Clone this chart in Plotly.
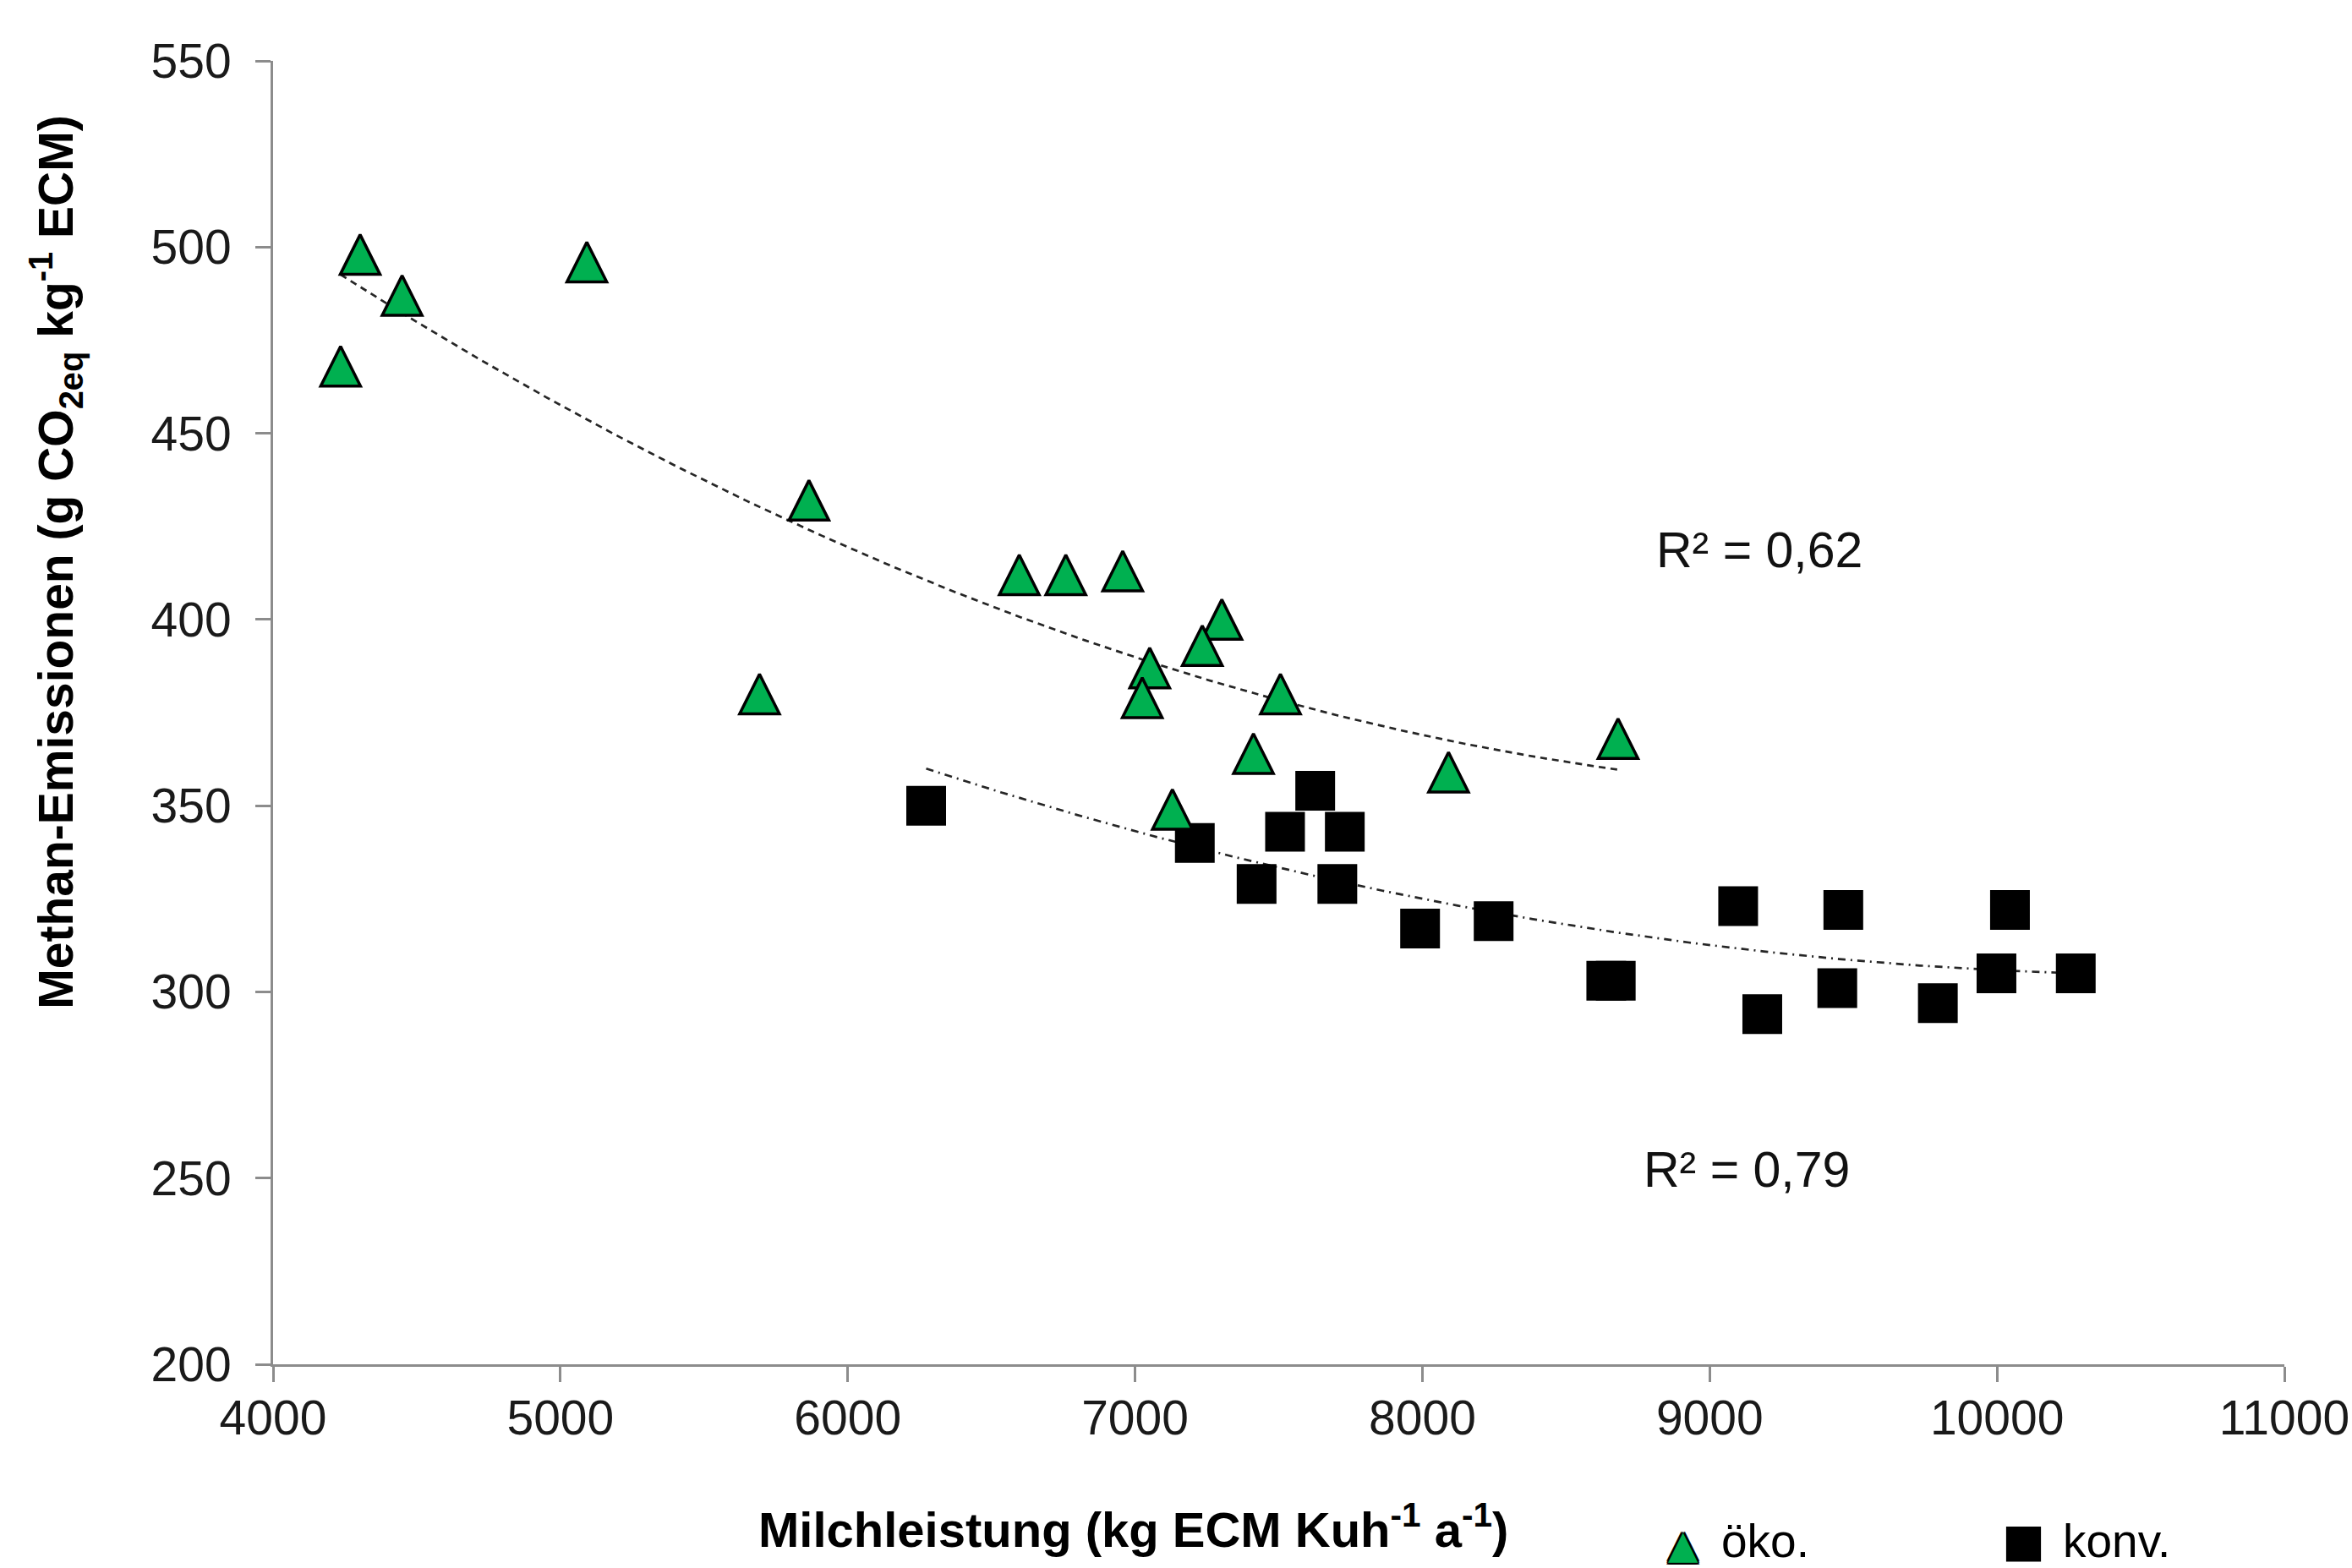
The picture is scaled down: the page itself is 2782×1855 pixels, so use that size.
import numpy as np
import plotly.graph_objects as go

# ---- data ----
oeko_x = [4235, 4303, 4449, 5092, 5865, 5693, 6597, 6759, 6957, 7302, 7234,
          7051, 7025, 7506, 7412, 7130, 8091, 8681]
oeko_y = [468, 498, 487, 496, 432, 380, 412, 412, 413, 400, 393,
          387, 379, 380, 364, 349, 359, 368]

konv_x = [6273, 7208, 7423, 7627, 7522, 7730, 7704, 7992, 8248, 8640, 8673,
          9099, 9183, 9465, 9444, 9794, 10045, 9998, 10274]
konv_y = [350, 340, 329, 354, 343, 343, 329, 317, 319, 303, 303,
          323, 294, 322, 301, 297, 322, 305, 305]

x_ticks = [4000, 5000, 6000, 7000, 8000, 9000, 10000, 11000]
y_ticks = [200, 250, 300, 350, 400, 450, 500, 550]

r2_oeko = "R² = 0,62"
r2_konv = "R² = 0,79"
legend_names = ["öko.", "konv."]

# ---- layout constants ----
W, H = 2782, 1855
ML, MR, MT, MB = 323, 80, 72, 241
YR = [200, 550]
XR = [4000, 11000]
plot_h = H - MT - MB
px_per_unit = plot_h / (YR[1] - YR[0])
bottom_paper = -MB / plot_h  # paper y of the figure's bottom edge

TRI_SIZE = 47
SQ_SIZE = 45
GREEN = "#00B050"
FONT = "Liberation Sans, Arial, sans-serif"
TICK_FONT = dict(family=FONT, size=57, color="#1a1a1a")

# 2nd-order polynomial trendlines (as in the original spreadsheet)
def trend(xs, ys):
    c = np.polyfit(xs, ys, 2)
    xx = np.linspace(min(xs), max(xs), 200)
    return xx, np.polyval(c, xx)

tox, toy = trend(oeko_x, oeko_y)
tkx, tky = trend(konv_x, konv_y)

fig = go.Figure()

fig.add_trace(go.Scatter(x=tox, y=toy, mode="lines", showlegend=False,
                         line=dict(color="#262626", width=2.7, dash="8px,6px"),
                         hoverinfo="skip"))
fig.add_trace(go.Scatter(x=tkx, y=tky, mode="lines", showlegend=False,
                         line=dict(color="#262626", width=2.7, dash="9px,6px,2px,6px"),
                         hoverinfo="skip"))

# squares
fig.add_trace(go.Scatter(x=konv_x, y=konv_y, mode="markers", showlegend=False,
                         marker=dict(symbol="square", size=SQ_SIZE, color="black",
                                     line=dict(color="black", width=2))))

# triangles drawn with 'arrow-up' (equal width/height, apex at the point);
# a shifted overlay axis centres the glyph on its value
shift = (TRI_SIZE / 2) / px_per_unit
fig.add_trace(go.Scatter(x=oeko_x, y=oeko_y, mode="markers", showlegend=False,
                         yaxis="y2",
                         marker=dict(symbol="arrow-up", size=TRI_SIZE, color=GREEN,
                                     line=dict(color="black", width=3.5))))

axis_common = dict(showgrid=False, zeroline=False, showline=True,
                   linecolor="#8c8c8c", linewidth=3, ticks="outside",
                   ticklen=18, tickwidth=3, tickcolor="#8c8c8c",
                   tickfont=TICK_FONT, ticklabeloverflow="allow")

outline = ("2px 0 0 #000, -2px 0 0 #000, 0 2px 0 #000, 0 -2px 0 #000, "
           "2px 2px 0 #000, -2px -2px 0 #000, 2px -2px 0 #000, -2px 2px 0 #000")

annotations = [
    # axis titles (placed off-centre as in the reference)
    dict(x=-0.108, y=0.615, xref="paper", yref="paper", textangle=-90,
         text="<b>Methan-Emissionen (g CO<sub>2eq</sub> kg<sup>-1</sup> ECM)</b>",
         showarrow=False, xanchor="center", yanchor="middle",
         font=dict(family=FONT, size=57, color="black")),
    dict(x=0.4275, y=-0.1245, xref="paper", yref="paper",
         text="<b>Milchleistung (kg ECM Kuh<sup>-1</sup> a<sup>-1</sup>)</b>",
         showarrow=False, xanchor="center", yanchor="middle",
         font=dict(family=FONT, size=58, color="black")),
    # R² labels
    dict(x=8808, y=418.6, xref="x", yref="y", text=r2_oeko, showarrow=False,
         xanchor="left", yanchor="middle", font=dict(family=FONT, size=59, color="#111")),
    dict(x=8764, y=252.3, xref="x", yref="y", text=r2_konv, showarrow=False,
         xanchor="left", yanchor="middle", font=dict(family=FONT, size=59, color="#111")),
    # legend (kept inside the bottom edge)
    dict(x=0.7011, y=bottom_paper, xref="paper", yref="paper", text="▲", showarrow=False,
         xanchor="center", yanchor="bottom", borderpad=0,
         font=dict(family="DejaVu Sans", size=46, color=GREEN, shadow=outline)),
    dict(x=0.7196, y=bottom_paper, xref="paper", yref="paper", text=legend_names[0],
         showarrow=False, xanchor="left", yanchor="bottom", borderpad=0,
         font=dict(family=FONT, size=55, color="black")),
    dict(x=0.8705, y=bottom_paper, xref="paper", yref="paper", text="■", showarrow=False,
         xanchor="center", yanchor="bottom", borderpad=0,
         font=dict(family="DejaVu Sans", size=54, color="black")),
    dict(x=0.8895, y=bottom_paper, xref="paper", yref="paper", text=legend_names[1],
         showarrow=False, xanchor="left", yanchor="bottom", borderpad=0,
         font=dict(family=FONT, size=55, color="black")),
]

fig.update_layout(
    width=W, height=H,
    margin=dict(l=ML, r=MR, t=MT, b=MB, autoexpand=False),
    paper_bgcolor="white", plot_bgcolor="white",
    hovermode=False, showlegend=False,
    xaxis=dict(range=XR, tickvals=x_ticks, ticktext=[str(v) for v in x_ticks],
               ticklabelstandoff=-6, **axis_common),
    yaxis=dict(range=YR, tickvals=y_ticks, ticktext=[str(v) for v in y_ticks],
               ticklabelstandoff=17, **axis_common),
    yaxis2=dict(range=[YR[0] - shift, YR[1] - shift], overlaying="y", visible=False,
                fixedrange=True),
    annotations=annotations,
)

fig.write_html("out.html", config={"displayModeBar": False},
               post_script="document.body.style.margin='0px';document.body.style.overflow='hidden';")
